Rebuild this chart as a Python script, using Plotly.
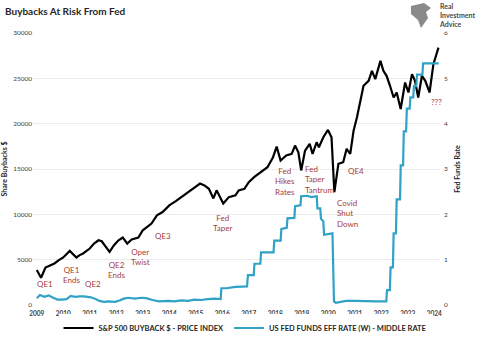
import plotly.graph_objects as go

# ---------------- data ----------------
buyback_dates = [
    "2009-01-01", "2009-03-01", "2009-05-01", "2009-07-01", "2009-09-01", "2009-11-01",
    "2010-01-01", "2010-04-01", "2010-07-01", "2010-08-15", "2010-10-01",
    "2011-01-01", "2011-03-01", "2011-05-01", "2011-06-15", "2011-10-01", "2011-12-01",
    "2012-02-01", "2012-04-01", "2012-06-01", "2012-08-01", "2012-11-01",
    "2013-01-01", "2013-05-01", "2013-07-15", "2013-10-01",
    "2014-01-01", "2014-04-01", "2014-07-01", "2014-10-01",
    "2015-01-01", "2015-03-01", "2015-05-01", "2015-07-01", "2015-09-01", "2015-10-15",
    "2016-01-15", "2016-04-01", "2016-07-01", "2016-08-15", "2016-11-01",
    "2017-01-01", "2017-03-15", "2017-06-15", "2017-09-15", "2017-12-01",
    "2018-01-20", "2018-03-15", "2018-06-01", "2018-08-15", "2018-09-30", "2018-11-15", "2018-12-24",
    "2019-02-15", "2019-04-20", "2019-05-30", "2019-07-25", "2019-08-25", "2019-10-25",
    "2019-12-28", "2020-02-15", "2020-03-25", "2020-05-20", "2020-07-25", "2020-09-10",
    "2020-10-30", "2020-12-15", "2021-01-30", "2021-03-15", "2021-05-01", "2021-07-10",
    "2021-08-25", "2021-10-10", "2021-12-20", "2022-01-30", "2022-03-15", "2022-05-01",
    "2022-06-20", "2022-08-01", "2022-09-25", "2022-11-25", "2023-01-10", "2023-02-28",
    "2023-04-10", "2023-05-25", "2023-07-15", "2023-08-30", "2023-10-28", "2023-12-20",
    "2024-02-28",
]
buyback_values = [
    3850, 3000, 4140, 4400, 4580, 4950,
    5240, 5970, 5240, 5500, 5680,
    6230, 6780, 7140, 7030, 5860, 6590,
    7140, 7440, 6780, 7220, 7440,
    8240, 8980, 9890, 10250,
    10990, 11460, 11980, 12450,
    13000, 13400, 13190, 12820, 11750, 12650,
    11200, 11900, 12090, 12640, 12820,
    13550, 14100, 14650, 15200, 16300,
    17470, 15940, 16490, 16670, 17580, 16850, 14840,
    17030, 17770, 16670, 17950, 17400, 18500,
    19310, 18500, 12450, 15570, 15750, 17220,
    16670, 19230, 20690, 22530, 24180, 24730,
    25830, 24910, 26930, 25830, 25280, 24180,
    22890, 23440, 21620, 24540, 23440, 25460,
    24730, 22890, 25280, 24730, 23440, 26560,
    28390,
]

fed_dates = [
    "2009-01-01", "2009-02-15", "2009-04-15", "2009-06-15", "2009-08-15", "2009-10-15",
    "2009-12-15", "2010-02-15", "2010-04-15", "2010-06-15", "2010-08-15", "2010-10-15",
    "2011-01-15", "2011-03-15", "2011-05-15", "2011-07-15", "2011-09-15", "2011-12-15",
    "2012-02-15", "2012-04-15", "2012-06-15", "2012-09-15", "2012-12-15",
    "2013-02-15", "2013-05-15", "2013-08-15", "2013-12-15",
    "2014-03-15", "2014-06-15", "2014-09-15", "2014-12-15",
    "2015-03-15", "2015-06-15", "2015-09-15", "2015-12-10", "2015-12-20",
    "2016-03-01", "2016-07-01", "2016-12-08", "2016-12-20",
    "2017-03-10", "2017-03-20", "2017-06-09", "2017-06-19", "2017-12-08", "2017-12-18",
    "2018-03-16", "2018-03-26", "2018-06-08", "2018-06-18", "2018-09-21", "2018-10-01",
    "2018-12-14", "2018-12-24", "2019-03-15", "2019-05-15", "2019-07-26", "2019-08-05",
    "2019-09-13", "2019-09-23", "2019-10-25", "2019-11-04", "2020-02-28", "2020-03-06",
    "2020-03-20", "2020-04-15", "2020-09-01", "2021-01-15", "2021-06-15", "2021-10-15",
    "2022-03-11", "2022-03-21", "2022-04-29", "2022-05-09", "2022-06-10", "2022-06-20",
    "2022-07-22", "2022-08-01", "2022-09-16", "2022-09-26", "2022-10-28", "2022-11-07",
    "2022-12-09", "2022-12-19", "2023-01-27", "2023-02-06", "2023-03-17", "2023-03-27",
    "2023-04-28", "2023-05-08", "2023-07-21", "2023-07-31", "2024-03-01",
]
fed_values = [
    0.15, 0.22, 0.18, 0.21, 0.16, 0.12,
    0.12, 0.13, 0.20, 0.18, 0.19, 0.19,
    0.17, 0.14, 0.09, 0.07, 0.08, 0.07,
    0.10, 0.14, 0.16, 0.14, 0.16,
    0.15, 0.11, 0.08, 0.09,
    0.08, 0.10, 0.09, 0.12,
    0.11, 0.13, 0.14, 0.13, 0.37,
    0.37, 0.40, 0.41, 0.66,
    0.66, 0.91, 0.91, 1.16, 1.16, 1.42,
    1.42, 1.68, 1.70, 1.91, 1.92, 2.18,
    2.20, 2.40, 2.41, 2.38, 2.40, 2.13,
    2.13, 1.90, 1.85, 1.55, 1.58, 1.10,
    0.08, 0.05, 0.09, 0.09, 0.08, 0.08,
    0.08, 0.33, 0.33, 0.83, 0.83, 1.58,
    1.58, 2.33, 2.33, 3.08, 3.08, 3.83,
    3.83, 4.33, 4.33, 4.58, 4.58, 4.83,
    4.83, 5.08, 5.08, 5.33, 5.33,
]

notes = [
    # text, date, buyback value, alignment
    ("QE1", "2009-04-20", 2300, "center"),
    ("QE1<br>Ends", "2010-05-01", 3300, "center"),
    ("QE2", "2011-02-20", 2270, "center"),
    ("QE2<br>Ends", "2012-01-10", 3850, "center"),
    ("Oper<br>Twist", "2012-11-25", 5275, "center"),
    ("QE3", "2013-10-12", 7580, "center"),
    ("Fed<br>Taper", "2016-01-10", 9010, "center"),
    ("Fed<br>Hikes<br>Rates", "2018-05-15", 13630, "center"),
    ("Fed<br>Taper<br>Tantrum", "2019-01-22", 13850, "left"),
    ("Covid<br>Shut<br>Down", "2020-04-05", 10110, "left"),
    ("QE4", "2021-01-20", 14730, "center"),
    ("???", "2024-02-01", 22420, "center"),
]

y_left_ticks = [0, 5000, 10000, 15000, 20000, 25000, 30000]
y_right_ticks = [0, 1, 2, 3, 4, 5, 6]

FONT = "Lato"
NOTE_COLOR = "#A8403A"
BLUE = "#2FA2C6"

W, H = 485, 340
L, R, T, B = 33, 45, 33, 35
pw, ph = W - L - R, H - T - B


def px(x):
    return (x - L) / pw


def py(y):
    return (H - B - y) / ph


fig = go.Figure()
fig.add_trace(go.Scatter(
    x=buyback_dates, y=buyback_values, mode="lines",
    name="S&P 500 BUYBACK $ - PRICE INDEX",
    line=dict(color="#000000", width=2.2), yaxis="y",
))
fig.add_trace(go.Scatter(
    x=fed_dates, y=fed_values, mode="lines",
    name="US FED FUNDS EFF RATE (W) - MIDDLE RATE",
    line=dict(color=BLUE, width=2.2), yaxis="y2",
))

for text, d, v, al in notes:
    fig.add_annotation(
        x=d, y=v, xref="x", yref="y", text=text, showarrow=False,
        xanchor="left" if al == "left" else "center", yanchor="middle",
        align=al, font=dict(family=FONT, size=8, color=NOTE_COLOR),
    )

# title
fig.add_annotation(
    x=px(3), y=py(11), xref="paper", yref="paper", text="<b>Buybacks At Risk From Fed</b>",
    showarrow=False, xanchor="left", yanchor="middle",
    font=dict(family=FONT, size=10, color="#262626"),
)
# logo
fig.add_annotation(
    x=px(437), y=py(15), xref="paper", yref="paper",
    text="<b>Real<br>Investment<br>Advice</b>", showarrow=False,
    xanchor="left", yanchor="middle", align="left",
    font=dict(family=FONT, size=7, color="#4a4a4a"),
)
logo = [(411, 6), (424, 3), (431, 8), (426, 12), (428, 18), (421, 28), (418, 20), (411, 14)]
path = "M " + " L ".join(f"{px(a):.4f},{py(b):.4f}" for a, b in logo) + " Z"
fig.add_shape(type="path", path=path, xref="paper", yref="paper",
              fillcolor="#8a8a8a", line=dict(width=0))

fig.update_layout(
    width=W, height=H,
    margin=dict(l=L, r=R, t=T, b=B, autoexpand=False),
    paper_bgcolor="white", plot_bgcolor="white",
    font=dict(family=FONT, size=7, color="#404040"),
    showlegend=True,
    legend=dict(
        orientation="h", x=px(245.5), xanchor="center",
        y=py(328), yanchor="middle",
        font=dict(family=FONT, size=7.5, color="#262626", weight="bold"),
        tracegroupgap=0, itemwidth=30,
    ),
    xaxis=dict(
        type="date", range=["2008-11-10", "2024-03-20"],
        dtick="M12", tick0="2009-01-01", tickformat="%Y",
        showgrid=False, showline=False, zeroline=False, ticks="",
        tickfont=dict(family=FONT, size=6.5, color="#404040", weight="bold"),
        tickangle=0, ticklabelstandoff=3,
    ),
    yaxis=dict(
        range=[0, 30000], tickvals=y_left_ticks, ticktext=[str(t) for t in y_left_ticks],
        showgrid=True, gridcolor="#ececec", gridwidth=1, zeroline=False,
        showline=False, ticks="",
        tickfont=dict(family=FONT, size=6.5, color="#404040"),
        title=dict(text="<b>Share Buybacks $</b>", font=dict(family=FONT, size=7, color="#262626"),
                   standoff=4),
    ),
    yaxis2=dict(
        range=[0, 6], tickvals=y_right_ticks, overlaying="y", side="right",
        showgrid=False, zeroline=False, showline=False, ticks="",
        tickfont=dict(family=FONT, size=6.5, color="#404040"),
        ticklabelstandoff=3,
        title=dict(text="<b>Fed Funds Rate</b>", font=dict(family=FONT, size=7, color="#262626"),
                   standoff=8),
    ),
    hovermode=False,
)

fig.write_html("out.html", config={"displayModeBar": False})
